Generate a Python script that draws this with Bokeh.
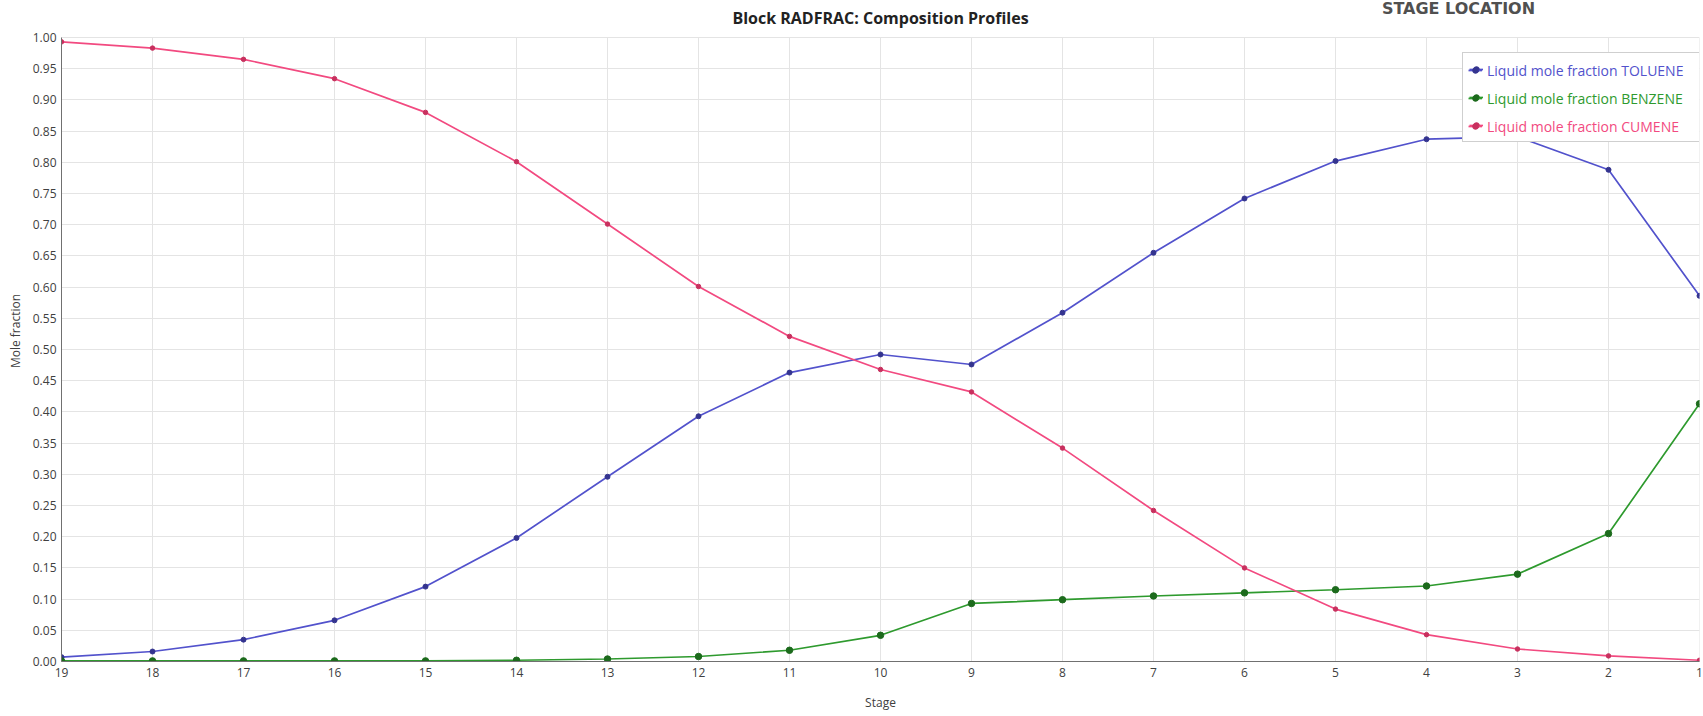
from bokeh.plotting import figure
from bokeh.models import (Range1d, FixedTicker, NumeralTickFormatter, Legend,
                          LegendItem, Label, ColumnDataSource)
from bokeh.embed import file_html
from bokeh.resources import INLINE

stages = [19, 18, 17, 16, 15, 14, 13, 12, 11, 10, 9, 8, 7, 6, 5, 4, 3, 2, 1]
toluene = [0.007, 0.016, 0.035, 0.066, 0.120, 0.198, 0.296, 0.393, 0.463, 0.492,
           0.476, 0.559, 0.655, 0.742, 0.802, 0.837, 0.841, 0.788, 0.586]
benzene = [0.001, 0.001, 0.001, 0.001, 0.001, 0.002, 0.004, 0.008, 0.018, 0.042,
           0.093, 0.099, 0.105, 0.110, 0.115, 0.121, 0.140, 0.205, 0.413]
cumene = [0.993, 0.983, 0.965, 0.934, 0.880, 0.801, 0.701, 0.601, 0.521, 0.468,
          0.432, 0.342, 0.242, 0.150, 0.084, 0.043, 0.020, 0.009, 0.002]
y_ticks = [0.00, 0.05, 0.10, 0.15, 0.20, 0.25, 0.30, 0.35, 0.40, 0.45, 0.50,
           0.55, 0.60, 0.65, 0.70, 0.75, 0.80, 0.85, 0.90, 0.95, 1.00]
series_names = ["Liquid mole fraction TOLUENE", "Liquid mole fraction BENZENE",
                "Liquid mole fraction CUMENE"]

FONT = "Open Sans"
Y_TOP = y_ticks[-1]
Y_BOTTOM = y_ticks[0]
# headroom above 1.00 (in data units) leaves room for titles inside the frame
Y_HEAD = Y_TOP * 37 / 624

src = ColumnDataSource(dict(stage=stages, tol=toluene, ben=benzene, cum=cumene))
grid_src = ColumnDataSource(dict(stage=stages, y0=[Y_BOTTOM] * len(stages),
                                 y1=[Y_TOP] * len(stages)))

p = figure(width=1703, height=716, output_backend="svg", toolbar_location=None,
           x_range=Range1d(19, 1), y_range=Range1d(Y_BOTTOM, Y_TOP + Y_HEAD),
           min_border_left=61, min_border_right=4, min_border_top=0,
           min_border_bottom=55)
p.outline_line_color = None
p.background_fill_color = "white"
p.border_fill_color = "white"

# axes
p.xaxis.ticker = FixedTicker(ticks=stages)
p.yaxis.ticker = FixedTicker(ticks=y_ticks)
p.yaxis.formatter = NumeralTickFormatter(format="0.00")
p.yaxis.bounds = (Y_BOTTOM, Y_TOP)
for ax in (p.xaxis[0], p.yaxis[0]):
    ax.major_tick_out = 0
    ax.major_tick_in = 0
    ax.minor_tick_out = 0
    ax.minor_tick_in = 0
    ax.axis_line_color = "#707070"
    ax.major_label_text_font = FONT
    ax.major_label_text_font_size = "12px"
    ax.major_label_text_color = "#404040"
    ax.axis_label_text_font = FONT
    ax.axis_label_text_font_size = "12px"
    ax.axis_label_text_font_style = "normal"
    ax.axis_label_text_color = "#404040"
p.xaxis.axis_label = "Stage"
p.yaxis.axis_label = "Mole fraction"
p.xaxis.major_label_standoff = 6
p.xaxis.axis_label_standoff = 14
p.yaxis.major_label_standoff = 5
p.yaxis.axis_label_standoff = 6

p.xgrid.visible = False
p.ygrid.grid_line_color = "#e4e4e4"
p.segment(x0="stage", y0="y0", x1="stage", y1="y1", source=grid_src,
          line_color="#e4e4e4", line_width=1, level="underlay")

# series
colors = ["#5252cc", "#2e9a2e", "#f24a80"]
mcolors = ["#34348f", "#1c6a1c", "#c8305e"]
msizes = [5, 6.5, 4.5]
cols = ["tol", "ben", "cum"]
items = []
renderer_sets = []
for col, c, mc, ms, name in zip(cols, colors, mcolors, msizes, series_names):
    r1 = p.line("stage", col, source=src, line_color=c, line_width=1.7)
    r2 = p.scatter("stage", col, source=src, size=ms, fill_color=mc,
                   line_color=mc, marker="circle")
    renderer_sets.append([r1, r2])
    items.append(LegendItem(label=name, renderers=[r1, r2]))

common = dict(orientation="vertical", padding=6, spacing=8, margin=0,
              label_height=20, glyph_height=20, glyph_width=14,
              label_standoff=5, label_width=205, label_text_font=FONT,
              label_text_font_size="14px")

# framed box (labels hidden in white)
box = Legend(items=items, location=(1401, 519),
             border_line_color="#a0a0a0", border_line_width=1,
             background_fill_color="white", background_fill_alpha=1,
             label_text_color="white", **common)
p.add_layout(box, "center")

# one legend per series, so each label gets its own colour
legend_bottoms = [575, 547, 519]
for name, c, rs, yb in zip(series_names, colors, renderer_sets, legend_bottoms):
    lg = Legend(items=[LegendItem(label=name, renderers=rs)],
                location=(1401, yb), border_line_alpha=0,
                background_fill_alpha=0, label_text_color=c, **common)
    p.add_layout(lg, "center")

p.add_layout(Label(x=819, y=644, x_units="screen", y_units="screen",
                   text="Block RADFRAC: Composition Profiles",
                   text_font=FONT, text_font_size="16px",
                   text_font_style="bold", text_color="#222222",
                   text_align="center", text_baseline="middle",
                   level="overlay"))
p.add_layout(Label(x=1397, y=653, x_units="screen", y_units="screen",
                   text="STAGE LOCATION", text_font="DejaVu Sans",
                   text_font_size="16px", text_font_style="bold",
                   text_color="#505050", text_align="center",
                   text_baseline="middle", level="overlay"))

open("out.html", "w").write(file_html(p, INLINE))
